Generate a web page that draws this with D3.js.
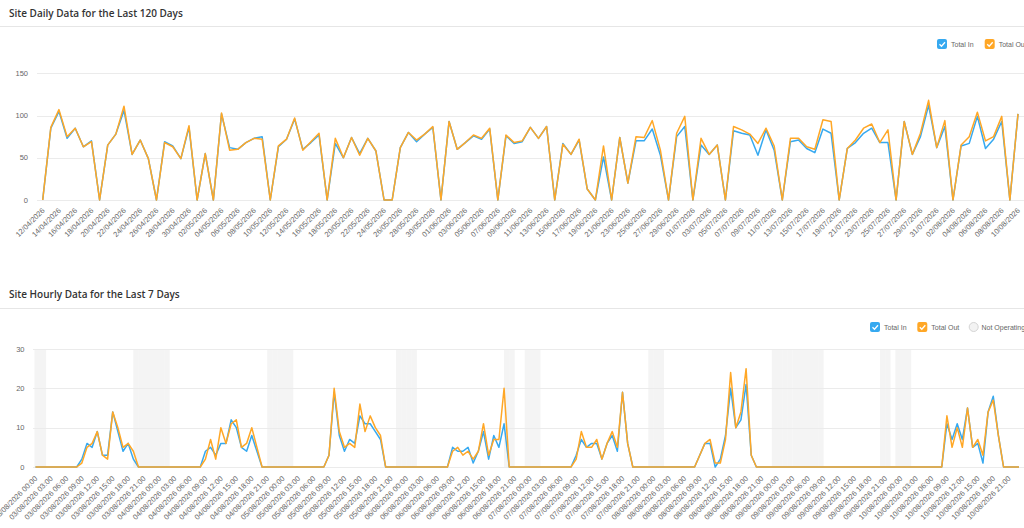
<!DOCTYPE html>
<html lang="en">
<title>Site Data</title>
<meta charset="UTF-8">
<style>
body {margin: 0; background: #fff; overflow: hidden}
svg {display: block; font-family: "Liberation Sans", Arial, sans-serif}
.title {font-family: "Open Sans", sans-serif; font-weight: 600; font-size: 10px; fill: #333}
.tick-y {font-size: 7.5px; fill: #666}
.tick-x {font-size: 7.5px; fill: #666}
.legend {font-size: 7px; fill: #666}
</style>
<script src="https://d3js.org/d3.v7.min.js"></script>
<body>

<div id="my_dataviz"></div>

<script>

// daily totals, 12/04/2026 -> 10/08/2026
var dailyIn = [
  0, 85, 105, 73, 85, 63, 70, 0, 65, 78, 106, 54, 71, 49, 0, 69, 64, 49, 86, 0,
  55, 0, 102, 62, 60, 68, 73, 75, 0, 63, 72, 96, 60, 68, 77, 0, 67, 50, 74, 55,
  73, 58, 0, 0, 62, 80, 69, 78, 86, 0, 93, 60, 68, 76, 72, 84, 0, 76, 67, 69,
  86, 73, 87, 0, 67, 54, 71, 13, 0, 51, 0, 74, 20, 70, 70, 84, 53, 0, 75, 87,
  0, 65, 54, 65, 0, 82, 79, 77, 53, 83, 59, 0, 69, 71, 61, 56, 84, 79, 0, 61,
  68, 79, 85, 68, 68, 0, 93, 54, 75, 112, 62, 87, 0, 64, 67, 99, 61, 72, 93, 0,
  102
];
var dailyOut = [
  0, 86, 107, 75, 85, 63, 69, 0, 65, 78, 111, 54, 71, 49, 0, 68, 63, 49, 88, 0,
  55, 0, 103, 59, 60, 68, 73, 72, 0, 64, 72, 97, 59, 69, 79, 0, 73, 50, 74, 53,
  73, 58, 0, 0, 62, 80, 71, 78, 87, 0, 93, 60, 68, 77, 73, 85, 0, 77, 68, 70,
  86, 73, 87, 0, 66, 54, 72, 13, 0, 64, 0, 74, 20, 75, 74, 94, 59, 0, 79, 99,
  0, 73, 54, 65, 0, 87, 83, 78, 67, 85, 64, 0, 73, 73, 63, 60, 95, 93, 0, 61,
  71, 85, 90, 68, 83, 0, 93, 54, 79, 118, 62, 94, 0, 65, 75, 104, 70, 75, 99, 0,
  102
];

// hourly totals, 03/08/2026 00:00 -> 10/08/2026 23:00 (one row per day)
var hourlyIn = [
  0,0,0,0,0,0,0,0,0,2,6,5,9,3,3,14,9,4,6,2,0,0,0,0,
  0,0,0,0,0,0,0,0,0,4,5,3,6,6,12,10,5,4,8,4,0,0,0,0,
  0,0,0,0,0,0,0,0,0,3,19,8,4,7,6,13,11,11,9,7,0,0,0,0,
  0,0,0,0,0,0,0,0,0,5,4,4,5,1,4,9,2,8,5,11,0,0,0,0,
  0,0,0,0,0,0,0,0,0,3,7,5,6,6,2,6,8,4,19,6,0,0,0,0,
  0,0,0,0,0,0,0,0,0,3,6,6,0,2,8,20,10,12,21,3,0,0,0,0,
  0,0,0,0,0,0,0,0,0,0,0,0,0,0,0,0,0,0,0,0,0,0,0,0,
  0,0,0,0,0,0,0,0,0,11,7,11,7,15,5,6,1,14,18,8,0,0,0,0
];
var hourlyOut = [
  0,0,0,0,0,0,0,0,0,1,5,6,9,3,2,14,10,5,6,4,0,0,0,0,
  0,0,0,0,0,0,0,0,0,2,7,2,10,6,11,12,5,6,10,5,0,0,0,0,
  0,0,0,0,0,0,0,0,0,3,20,9,5,6,5,16,9,13,10,8,0,0,0,0,
  0,0,0,0,0,0,0,0,0,4,5,3,4,2,4,11,3,7,7,20,0,0,0,0,
  0,0,0,0,0,0,0,0,0,2,9,5,5,7,2,6,9,5,19,6,0,0,0,0,
  0,0,0,0,0,0,0,0,0,3,6,7,1,1,7,24,10,14,25,3,0,0,0,0,
  0,0,0,0,0,0,0,0,0,0,0,0,0,0,0,0,0,0,0,0,0,0,0,0,
  0,0,0,0,0,0,0,0,0,13,5,10,5,15,5,7,3,14,17,8,0,0,0,0
];

// hours (index into the hourly arrays) flagged as not operating
var notOperating = [0, 1, 19, 20, 21, 22, 23, 24, 25, 45, 46, 47, 48, 49, 70, 71, 72, 73,
  91, 92, 95, 96, 97, 119, 120, 121, 143, 144, 145, 146, 147, 148, 149, 150, 151, 152,
  164, 165, 167, 168, 169];

var dailyTicks = [0, 50, 100, 150];
var hourlyTicks = [0, 10, 20, 30];

// category labels
var fmtDay = d3.timeFormat("%d/%m/%Y"),
    fmtHour = d3.timeFormat("%d/%m/%Y %H:00");
var dayLabels = d3.timeDay.range(new Date(2026, 3, 12), new Date(2026, 7, 11)).map(fmtDay);
var hourLabels = d3.timeHour.range(new Date(2026, 7, 3, 0), new Date(2026, 7, 11, 0)).map(fmtHour);

var blue = "#36a9f0", orange = "#ffa726";

var svg = d3.select("#my_dataviz")
  .append("svg")
    .attr("width", 1024)
    .attr("height", 528);

// titles and header rules
svg.append("text").attr("class", "title").attr("x", 9).attr("y", 16.5).text("Site Daily Data for the Last 120 Days");
svg.append("line").attr("x1", 0).attr("x2", 1024).attr("y1", 26.5).attr("y2", 26.5).style("stroke", "#e6e6e6");
svg.append("text").attr("class", "title").attr("x", 9).attr("y", 297.5).text("Site Hourly Data for the Last 7 Days");
svg.append("line").attr("x1", 0).attr("x2", 1024).attr("y1", 308.5).attr("y2", 308.5).style("stroke", "#e6e6e6");

function drawChart(opt) {
  var g = svg.append("g");

  var x = d3.scalePoint()
      .domain(d3.range(opt.inData.length))
      .range(opt.xRange);
  var y = d3.scaleLinear()
      .domain([0, d3.max(opt.ticks)])
      .range(opt.yRange);

  // not operating bands
  if (opt.bands) {
    var step = x.step();
    g.selectAll("rect.band")
      .data(opt.bands)
      .enter()
      .append("rect")
        .attr("class", "band")
        .attr("x", function(d) { return x(d) - (d === 0 ? 1 : 0); })
        .attr("width", function(d) { return step + (d === 0 ? 1 : 0) + 0.3; })
        .attr("y", y(d3.max(opt.ticks)))
        .attr("height", y(0) - y(d3.max(opt.ticks)))
        .style("fill", "#f4f4f4");
  }

  // grid + y labels
  g.selectAll("line.grid")
    .data(opt.ticks)
    .enter()
    .append("line")
      .attr("x1", opt.gridStart).attr("x2", 1024)
      .attr("y1", function(d) { return Math.round(y(d)) + 0.5; })
      .attr("y2", function(d) { return Math.round(y(d)) + 0.5; })
      .style("stroke", "#ebebeb");
  g.selectAll("text.tick-y")
    .data(opt.ticks)
    .enter()
    .append("text")
      .attr("class", "tick-y")
      .attr("x", opt.labelRight)
      .attr("y", function(d) { return y(d) + 2.6; })
      .attr("text-anchor", "end")
      .text(function(d) { return d; });

  // x labels
  g.selectAll("text.tick-x")
    .data(opt.labels.filter(function(d, i) { return i % opt.every === 0; }))
    .enter()
    .append("text")
      .attr("class", "tick-x")
      .attr("text-anchor", "end")
      .attr("transform", function(d, i) {
        return "translate(" + (x(i * opt.every) + 2.5) + "," + (y(0) + opt.labelGap) + ") rotate(-45)";
      })
      .text(function(d) { return d; });

  // the two lines, out drawn over in
  var line = d3.line()
      .x(function(d, i) { return x(i); })
      .y(function(d) { return y(d); });
  g.append("path")
      .datum(opt.inData)
      .attr("d", line)
      .style("fill", "none").style("stroke", blue).style("stroke-width", 1.5)
      .style("stroke-linejoin", "round");
  g.append("path")
      .datum(opt.outData)
      .attr("d", line)
      .style("fill", "none").style("stroke", orange).style("stroke-width", 1.5)
      .style("stroke-linejoin", "round");
}

drawChart({inData: dailyIn, outData: dailyOut, labels: dayLabels, every: 2, ticks: dailyTicks,
  xRange: [42.7, 1018], yRange: [200, 73.3], gridStart: 37, labelRight: 28, labelGap: 11});
drawChart({inData: hourlyIn, outData: hourlyOut, labels: hourLabels, every: 3, ticks: hourlyTicks,
  xRange: [35.5, 1019], yRange: [467, 349], gridStart: 33, labelRight: 24.5, labelGap: 12, bands: notOperating});

// Handmade legends
function checkBox(x0, y0, color, label) {
  svg.append("rect").attr("x", x0).attr("y", y0).attr("width", 10).attr("height", 10)
    .attr("rx", 2).style("fill", color);
  svg.append("path").attr("d", "M" + (x0 + 2.5) + "," + (y0 + 5.2) + " l2,2 l3.5,-4")
    .style("fill", "none").style("stroke", "#fff").style("stroke-width", 1.3);
  svg.append("text").attr("class", "legend").attr("x", x0 + 14).attr("y", y0 + 7.8).text(label);
}
checkBox(937, 39, blue, "Total In");
checkBox(984.7, 39, orange, "Total Out");
checkBox(870, 322, blue, "Total In");
checkBox(917.3, 322, orange, "Total Out");
svg.append("circle").attr("cx", 973.7).attr("cy", 327).attr("r", 4.5)
  .style("fill", "#f3f3f3").style("stroke", "#d5d5d5");
svg.append("text").attr("class", "legend").attr("x", 981.5).attr("y", 329.8).text("Not Operating");

</script>
</body>
</html>
